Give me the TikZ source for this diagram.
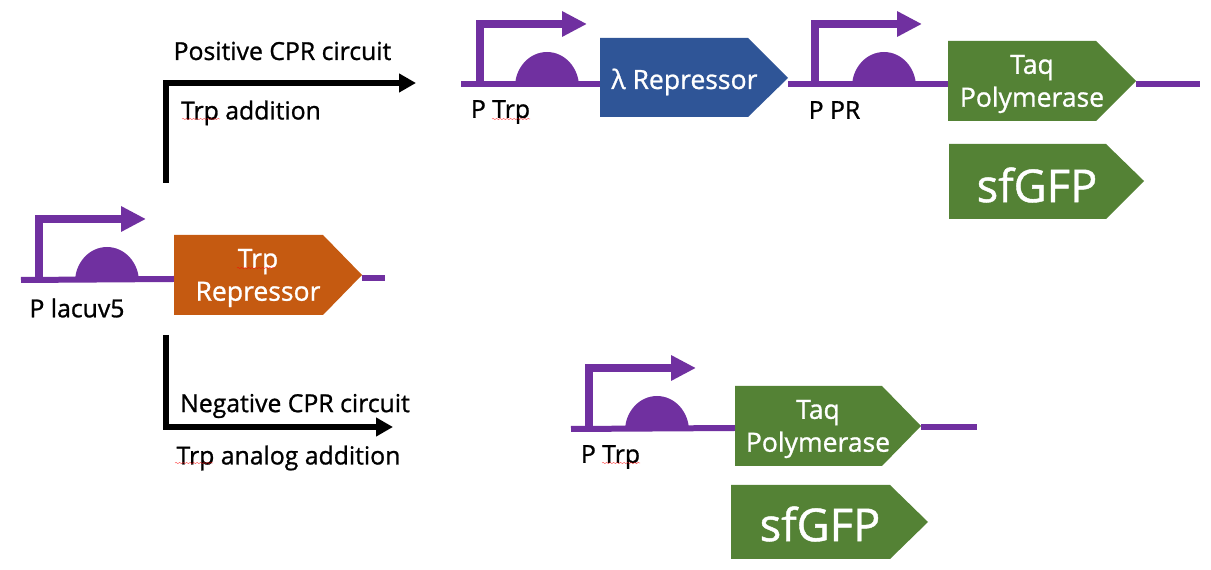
\documentclass[tikz,border=0pt]{standalone}
\usepackage{fontspec}
\setmainfont{Open Sans}
\newfontfamily\medfont[FakeBold=1]{Open Sans}
\usepackage{tikz}
\usetikzlibrary{arrows.meta, decorations.pathmorphing}
\definecolor{genepurple}{RGB}{112,48,160}
\definecolor{trporange}{RGB}{197,90,17}
\definecolor{lamblue}{RGB}{47,85,151}
\definecolor{taqgreen}{RGB}{84,130,53}
\tikzset{
  backbone/.style = {line width = 0.12cm, color = genepurple},
  tss/.style = {line width = 0.16cm, color = genepurple, -{Triangle[length = 0.5cm, width = 0.48cm]}},
  flow/.style = {line width = 0.13cm, color = black, -{Triangle[length = 0.34cm, width = 0.36cm]}},
  spell/.style = {very thin, color = red, decorate, decoration = {snake, amplitude = 0.25pt, segment length = 2pt}},
  lbl/.style = {font = \medfont\fontsize{14.1}{16}\selectfont, color = black},
  cds/.style = {font = \medfont\fontsize{15.1}{18.7}\selectfont, color = white},
  big/.style = {font = \medfont\fontsize{25.8}{28}\selectfont, color = white}
}
\begin{document}
\begin{tikzpicture}[x = 0.02cm, y = -0.02cm]
\useasboundingbox (0, 0) rectangle (1211, 570);
% backbones
\draw [backbone] (21, 280) to (174, 279);
\draw [backbone] (362, 278) to (385, 278);
\draw [backbone] (461, 84) to (600, 84);
\draw [backbone] (788, 84) to (948, 84);
\draw [backbone] (1136, 84) to (1200, 84);
\draw [backbone] (571, 429) to (735, 428);
\draw [backbone] (921, 427) to (977, 427);
% promoters: start x, backbone y, hump x
\foreach \px/\py/\hx in {39/279/107, 480/84/547, 815/84/884, 589/428/657}{
  \draw [tss] (\px, \py) |- ({\px + 107}, {\py - 60});
  \fill [color = genepurple] ({\hx - 32}, {\py + 3}) arc [start angle = 180, end angle = 0, x radius = 32, y radius = -35] -- cycle;
}
% coding sequences
\fill [color = trporange] (174, 235) -- (323, 235) -- (362, 275) -- (323, 315) -- (174, 315) -- cycle;
\fill [color = lamblue] (600, 38) -- (748, 38) -- (788, 78) -- (748, 117) -- (600, 117) -- cycle;
\fill [color = taqgreen] (948, 41) -- (1096, 41) -- (1136, 81) -- (1096, 121) -- (948, 121) -- cycle;
\fill [color = taqgreen] (949, 144) -- (1106, 144) -- (1144, 181) -- (1106, 219) -- (949, 219) -- cycle;
\fill [color = taqgreen] (735, 386) -- (882, 386) -- (921, 426) -- (882, 466) -- (735, 466) -- cycle;
\fill [color = taqgreen] (731, 485) -- (890, 485) -- (928, 522) -- (890, 559) -- (731, 559) -- cycle;
% circuit arrows
\coordinate (posstart) at (166, 183);
\coordinate (posend) at (416, 83);
\coordinate (negstart) at (166, 335);
\coordinate (negend) at (393, 427);
\draw [flow] (posstart) |- (posend);
\draw [flow] (negstart) |- (negend);
% labels
\node (pos) at (282.5, 51) [lbl] {Positive CPR circuit};
\node (trpadd) at (251, 113) [lbl] {Trp addition};
\node (neg) at (295, 406) [lbl] {Negative CPR circuit};
\node (analog) at (288.5, 458) [lbl] {Trp analog addition};
\node (placuv) at (77, 308) [lbl] {P lacuv5};
\node (ptrpa) at (500.5, 112) [lbl] {P Trp};
\node (ppr) at (834.5, 110) [lbl] {P PR};
\node (ptrpb) at (610.5, 457) [lbl] {P Trp};
\node (trprep) at (258, 278) [cds, align = center] {Trp\\Repressor};
\node (lamrep) at (684.5, 82) [cds] {λ Repressor};
\node (taqa) at (1032, 84) [cds, align = center] {Taq\\Polymerase};
\node (taqb) at (818, 429) [cds, align = center] {Taq\\Polymerase};
\node (gfpa) at (1037, 185) [big] {sfGFP};
\node (gfpb) at (820, 524) [big] {sfGFP};
% spelling marks under Trp
\foreach \sx/\sy in {182/119, 492/119, 175/463, 602/463, 237/268}{
  \draw [spell] (\sx, \sy) to ({\sx + 38}, \sy);
}
\end{tikzpicture}
\end{document}
